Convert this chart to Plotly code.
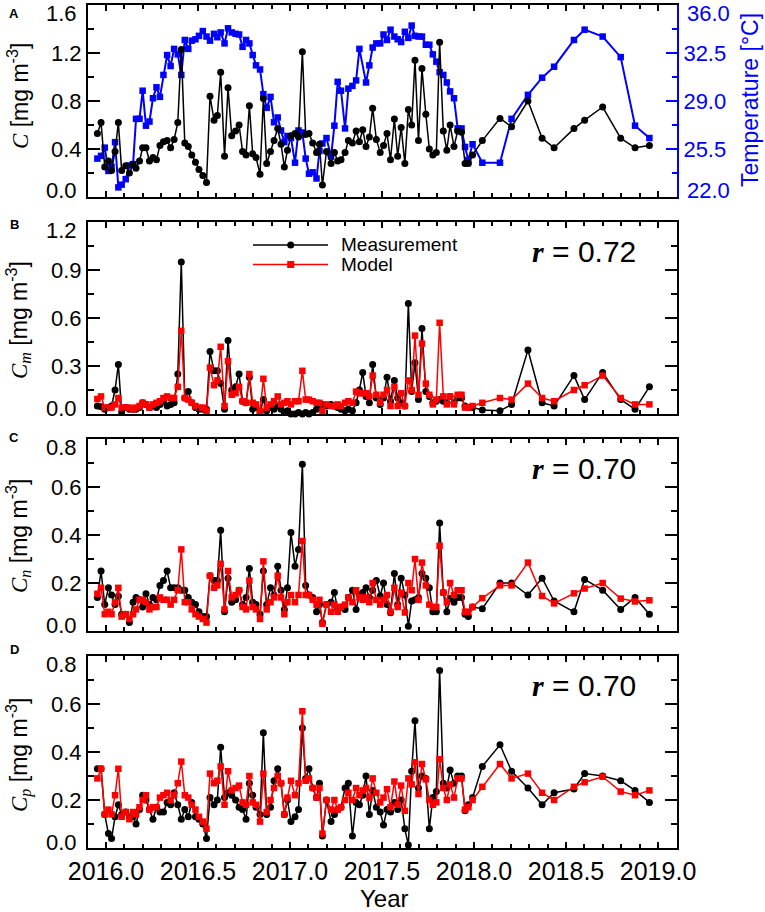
import plotly.graph_objects as go

# sampling dates, decimal year
year = [
    2015.953, 2015.973, 2015.993, 2016.013, 2016.030, 2016.049, 2016.067, 2016.085, 2016.107, 2016.127,
    2016.147, 2016.163, 2016.182, 2016.199, 2016.217, 2016.236, 2016.255, 2016.274, 2016.293, 2016.312,
    2016.332, 2016.351, 2016.370, 2016.390, 2016.409, 2016.428, 2016.447, 2016.466, 2016.486, 2016.505,
    2016.526, 2016.546, 2016.565, 2016.587, 2016.605, 2016.623, 2016.644, 2016.663, 2016.683, 2016.704,
    2016.723, 2016.742, 2016.761, 2016.779, 2016.797, 2016.815, 2016.837, 2016.855, 2016.873, 2016.894,
    2016.913, 2016.933, 2016.951, 2016.969, 2016.986, 2017.005, 2017.027, 2017.046, 2017.067, 2017.085,
    2017.103, 2017.123, 2017.144, 2017.160, 2017.176, 2017.198, 2017.223, 2017.241, 2017.259, 2017.277,
    2017.299, 2017.317, 2017.339, 2017.359, 2017.377, 2017.395, 2017.413, 2017.431, 2017.449, 2017.469,
    2017.490, 2017.508, 2017.527, 2017.546, 2017.567, 2017.585, 2017.604, 2017.624, 2017.643, 2017.661,
    2017.679, 2017.698, 2017.717, 2017.738, 2017.757, 2017.776, 2017.795, 2017.813, 2017.833, 2017.852,
    2017.870, 2017.891, 2017.911, 2017.932, 2017.951, 2017.969, 2017.992, 2018.045, 2018.141, 2018.204,
    2018.293, 2018.370, 2018.435, 2018.543, 2018.601, 2018.699, 2018.797, 2018.875, 2018.953,
]

# panel A: total concentration (mg m-3) and temperature (deg C)
conc_total = [
    0.53, 0.62, 0.25, 0.30, 0.22, 0.38, 0.62, 0.22, 0.26, 0.20,
    0.27, 0.24, 0.30, 0.41, 0.41, 0.30, 0.33, 0.31, 0.43, 0.46,
    0.47, 0.41, 0.48, 0.62, 1.23, 0.45, 0.42, 0.35, 0.29, 0.23,
    0.18, 0.12, 0.84, 0.64, 0.68, 1.04, 0.34, 0.91, 0.51, 0.55,
    0.60, 0.38, 0.35, 0.76, 0.36, 0.33, 0.19, 0.82, 0.28, 0.38,
    0.47, 0.57, 0.44, 0.25, 0.39, 0.51, 0.53, 0.50, 1.21, 0.52,
    0.53, 0.45, 0.37, 0.44, 0.10, 0.38, 0.28, 0.37, 0.30, 0.31,
    0.37, 0.47, 0.45, 0.55, 0.46, 0.56, 0.42, 0.50, 0.74, 0.48,
    0.37, 0.43, 0.53, 0.31, 0.65, 0.34, 0.58, 0.28, 0.73, 0.60,
    1.14, 0.47, 1.07, 0.69, 0.40, 0.35, 0.37, 1.29, 0.55, 0.39,
    0.60, 0.42, 0.55, 0.54, 0.28, 0.28, 0.35, 0.47, 0.655, 0.585,
    0.80, 0.49, 0.41, 0.57, 0.64, 0.75, 0.49, 0.41, 0.43,
]
temperature = [
    24.8, 25.0, 25.6, 23.9, 24.2, 26.0, 22.7, 22.9, 23.3, 24.3,
    24.4, 27.7, 27.7, 29.75, 27.2, 27.5, 29.2, 30.0, 29.3, 30.9,
    32.35, 31.55, 32.8, 32.4, 30.9, 33.45, 32.8, 33.4, 33.5, 33.75,
    34.1, 33.7, 33.4, 33.9, 33.65, 34.0, 33.2, 34.3, 34.0, 33.9,
    33.85, 32.95, 33.45, 33.2, 32.35, 31.6, 31.3, 29.5, 28.5, 29.3,
    27.45, 27.8, 26.85, 26.0, 26.45, 26.3, 24.5, 26.85, 26.7, 24.8,
    23.7, 23.8, 23.35, 25.35, 25.9, 26.3, 24.95, 27.2, 30.4, 29.75,
    27.0, 29.9, 30.1, 30.5, 32.8, None, 30.35, 31.6, 32.9, 33.2,
    33.2, 33.85, 33.45, 34.2, 33.7, 33.5, 33.3, 34.05, 33.6, 34.5,
    33.75, 33.7, 33.7, 33.1, 33.1, 32.4, 31.87, 31.1, 30.9, 30.35,
    29.7, 29.2, 27.0, 27.0, 25.65, 24.7, 25.85, 24.5, 24.5, 27.7,
    29.45, 30.7, 31.5, 33.45, 34.2, 33.7, 32.2, 27.2, 26.3,
]

# panel B: Cm
cm_meas = [
    0.05, 0.045, 0.03, 0.04, 0.05, 0.15, 0.31, 0.01, 0.04, 0.03,
    0.03, 0.03, 0.04, 0.07, 0.06, 0.04, 0.05, 0.04, 0.06, 0.08,
    0.05, 0.06, 0.07, 0.25, 0.95, 0.10, 0.14, 0.07, 0.04, 0.03,
    0.03, 0.03, 0.39, 0.27, 0.27, 0.19, 0.03, 0.46, 0.15, 0.17,
    0.25, 0.08, 0.07, 0.23, 0.03, 0.04, 0.01, 0.09, 0.02, 0.04,
    0.03, 0.05, 0.03, 0.01, 0.02, 0.00, 0.00, 0.01, 0.00, 0.01,
    0.00, 0.01, 0.03, 0.04, 0.06, 0.05, 0.06, 0.05, 0.04, 0.03,
    0.02, 0.03, 0.02, 0.07, 0.15, 0.26, 0.11, 0.07, 0.31, 0.10,
    0.06, 0.10, 0.23, 0.08, 0.21, 0.10, 0.07, 0.05, 0.69, 0.14,
    0.32, 0.09, 0.535, 0.14, 0.11, 0.07, 0.08, 0.09, 0.08, 0.07,
    0.11, 0.07, 0.10, 0.10, 0.05, 0.04, 0.04, 0.025, 0.02, 0.06,
    0.40, 0.07, 0.05, 0.24, 0.09, 0.26, 0.09, 0.03, 0.17,
]
cm_model = [
    0.094, 0.11, 0.04, 0.04, 0.04, 0.06, 0.10, 0.04, 0.04, 0.04,
    0.03, 0.04, 0.05, 0.07, 0.06, 0.04, 0.06, 0.07, 0.08, 0.10,
    0.11, 0.10, 0.10, 0.17, 0.52, 0.10, 0.09, 0.07, 0.05, 0.04,
    0.04, 0.02, 0.29, 0.18, 0.21, 0.42, 0.05, 0.33, 0.12, 0.13,
    0.17, 0.08, 0.07, 0.25, 0.07, 0.06, 0.02, 0.22, 0.04, 0.06,
    0.08, 0.11, 0.06, 0.07, 0.08, 0.06, 0.08, 0.08, 0.27, 0.09,
    0.09, 0.08, 0.07, 0.07, 0.02, 0.06, 0.05, 0.05, 0.06, 0.05,
    0.07, 0.08, 0.07, 0.14, 0.13, 0.13, 0.13, 0.11, 0.24, 0.12,
    0.07, 0.12, 0.15, 0.05, 0.17, 0.05, 0.13, 0.05, 0.21, 0.15,
    0.49, 0.12, 0.44, 0.19, 0.12, 0.06, 0.09, 0.57, 0.11, 0.06,
    0.11, 0.06, 0.12, 0.12, 0.04, 0.04, 0.05, 0.07, 0.10, 0.09,
    0.19, 0.10, 0.08, 0.15, 0.18, 0.24, 0.10, 0.06, 0.06,
]

# panel C: Cn
cn_meas = [
    0.14, 0.25, 0.11, 0.18, 0.15, 0.11, 0.145, 0.07, 0.07, 0.035,
    0.12, 0.14, 0.13, 0.10, 0.155, 0.11, 0.14, 0.13, 0.19, 0.21,
    0.25, 0.18, 0.18, 0.18, 0.17, 0.17, 0.14, 0.12, 0.11, 0.08,
    0.06, 0.06, 0.23, 0.21, 0.21, 0.42, 0.08, 0.22, 0.12, 0.13,
    0.17, 0.11, 0.14, 0.26, 0.12, 0.11, 0.07, 0.25, 0.11, 0.18,
    0.15, 0.27, 0.17, 0.09, 0.18, 0.41, 0.27, 0.34, 0.695, 0.19,
    0.15, 0.14, 0.08, 0.11, 0.035, 0.11, 0.12, 0.16, 0.09, 0.10,
    0.09, 0.14, 0.17, 0.09, 0.15, 0.16, 0.18, 0.14, 0.17, 0.21,
    0.146, 0.20, 0.11, 0.076, 0.24, 0.11, 0.22, 0.15, 0.02, 0.125,
    0.13, 0.14, 0.24, 0.22, 0.18, 0.08, 0.08, 0.45, 0.16, 0.08,
    0.135, 0.12, 0.14, 0.14, 0.07, 0.06, 0.10, 0.093, 0.20, 0.20,
    0.15, 0.22, 0.125, 0.08, 0.215, 0.17, 0.09, 0.14, 0.07,
]
cn_model = [
    0.155, 0.18, 0.07, 0.08, 0.07, 0.12, 0.18, 0.06, 0.07, 0.05,
    0.07, 0.09, 0.13, 0.13, 0.12, 0.09, 0.10, 0.10, 0.14, 0.13,
    0.13, 0.11, 0.13, 0.17, 0.34, 0.12, 0.12, 0.09, 0.07, 0.06,
    0.05, 0.035, 0.23, 0.18, 0.19, 0.28, 0.09, 0.25, 0.14, 0.15,
    0.17, 0.10, 0.09, 0.21, 0.10, 0.09, 0.05, 0.29, 0.09, 0.12,
    0.14, 0.23, 0.14, 0.07, 0.12, 0.15, 0.12, 0.15, 0.375, 0.15,
    0.15, 0.13, 0.11, 0.13, 0.03, 0.11, 0.08, 0.11, 0.08, 0.10,
    0.11, 0.14, 0.12, 0.17, 0.14, 0.13, 0.14, 0.12, 0.20, 0.13,
    0.11, 0.13, 0.15, 0.08, 0.18, 0.10, 0.16, 0.077, 0.20, 0.17,
    0.30, 0.13, 0.285, 0.19, 0.11, 0.10, 0.10, 0.355, 0.16, 0.12,
    0.20, 0.15, 0.17, 0.17, 0.08, 0.08, 0.10, 0.137, 0.19, 0.19,
    0.285, 0.146, 0.115, 0.157, 0.177, 0.20, 0.135, 0.123, 0.128,
]

# panel D: Cp
cp_meas = [
    0.33, 0.33, 0.14, 0.06, 0.04, 0.13, 0.18, 0.14, 0.15, 0.13,
    0.13, 0.10, 0.16, 0.22, 0.20, 0.16, 0.12, 0.17, 0.15, 0.15,
    0.19, 0.18, 0.23, 0.18, 0.12, 0.16, 0.13, 0.19, 0.13, 0.12,
    0.10, 0.04, 0.21, 0.18, 0.20, 0.42, 0.21, 0.23, 0.22, 0.20,
    0.17, 0.16, 0.12, 0.27, 0.22, 0.17, 0.14, 0.48, 0.14, 0.17,
    0.28, 0.33, 0.27, 0.14, 0.20, 0.11, 0.13, 0.16, 0.50, 0.29,
    0.33, 0.25, 0.21, 0.27, 0.05, 0.20, 0.11, 0.14, 0.16, 0.17,
    0.25, 0.27, 0.05, 0.19, 0.18, 0.22, 0.30, 0.14, 0.24, 0.17,
    0.15, 0.096, 0.16, 0.15, 0.19, 0.16, 0.20, 0.08, 0.012, 0.32,
    0.53, 0.25, 0.30, 0.29, 0.08, 0.21, 0.235, 0.74, 0.27, 0.25,
    0.325, 0.27, 0.30, 0.30, 0.155, 0.18, 0.21, 0.34, 0.43, 0.32,
    0.25, 0.18, 0.23, 0.246, 0.31, 0.30, 0.28, 0.24, 0.19,
]
cp_model = [
    0.29, 0.33, 0.14, 0.16, 0.14, 0.22, 0.33, 0.13, 0.15, 0.12,
    0.15, 0.14, 0.17, 0.20, 0.22, 0.16, 0.17, 0.17, 0.21, 0.22,
    0.23, 0.20, 0.22, 0.27, 0.36, 0.22, 0.21, 0.18, 0.16, 0.13,
    0.11, 0.08, 0.31, 0.27, 0.28, 0.34, 0.18, 0.32, 0.24, 0.25,
    0.26, 0.19, 0.18, 0.30, 0.19, 0.18, 0.11, 0.31, 0.15, 0.20,
    0.25, 0.30, 0.27, 0.14, 0.21, 0.28, 0.22, 0.27, 0.57, 0.28,
    0.29, 0.25, 0.21, 0.25, 0.06, 0.20, 0.16, 0.20, 0.16, 0.17,
    0.20, 0.23, 0.20, 0.25, 0.22, 0.24, 0.25, 0.21, 0.29, 0.23,
    0.19, 0.21, 0.245, 0.17, 0.277, 0.18, 0.26, 0.155, 0.29, 0.265,
    0.357, 0.225, 0.35, 0.286, 0.20, 0.18, 0.19, 0.37, 0.25, 0.20,
    0.265, 0.21, 0.29, 0.29, 0.16, 0.17, 0.20, 0.255, 0.35, 0.29,
    0.31, 0.23, 0.20, 0.255, 0.274, 0.297, 0.235, 0.22, 0.24,
]

r_values = ["0.72", "0.70", "0.70"]
panel_letters = ["A", "B", "C", "D"]
# y tick values per panel (left axes) and for the temperature axis
yticks_left = [
    [0.0, 0.4, 0.8, 1.2, 1.6],
    [0.0, 0.3, 0.6, 0.9, 1.2],
    [0.0, 0.2, 0.4, 0.6, 0.8],
    [0.0, 0.2, 0.4, 0.6, 0.8],
]
yticks_temp = [22.0, 25.5, 29.0, 32.5, 36.0]

W, H = 765, 912
ML, MR, MT, MB = 88, 88, 5, 64
PW, PH = W - ML - MR, H - MT - MB


def px2x(px):
    return (px - ML) / PW


def px2y(py):
    return (H - MB - py) / PH


# panel pixel extents (top, bottom)
panels = [(5, 197), (222, 414), (439, 631), (656, 848)]
domains = [[px2y(b), px2y(t)] for t, b in panels]

SANS = "Liberation Sans"
SERIF = "Liberation Serif"
BLUE = "#0000ff"
RED = "#ff0000"

fig = go.Figure()

# panel A: temperature on base axis (right), concentration overlaid (left) so black draws on top
fig.add_trace(go.Scatter(x=year, y=temperature, xaxis="x", yaxis="y", mode="lines+markers",
                         connectgaps=True, cliponaxis=False,
                         line=dict(color=BLUE, width=2),
                         marker=dict(symbol="square", size=6.5, color=BLUE), showlegend=False))
fig.add_trace(go.Scatter(x=year, y=conc_total, xaxis="x", yaxis="y5", mode="lines+markers",
                         cliponaxis=False, line=dict(color="black", width=1.5),
                         marker=dict(symbol="circle", size=7, color="black"), showlegend=False))

for i, (meas, model) in enumerate([(cm_meas, cm_model), (cn_meas, cn_model), (cp_meas, cp_model)], start=2):
    fig.add_trace(go.Scatter(x=year, y=meas, xaxis=f"x{i}", yaxis=f"y{i}", mode="lines+markers",
                             cliponaxis=False, line=dict(color="black", width=1.5),
                             marker=dict(symbol="circle", size=7, color="black"), showlegend=False))
    fig.add_trace(go.Scatter(x=year, y=model, xaxis=f"x{i}", yaxis=f"y{i}", mode="lines+markers",
                             cliponaxis=False, line=dict(color=RED, width=1.5),
                             marker=dict(symbol="square", size=6.5, color=RED), showlegend=False))

xcommon = dict(range=[2015.902, 2019.103], tick0=2016.0, dtick=0.5, tickformat=".1f",
               ticks="inside", ticklen=6, tickwidth=1.5, tickcolor="black",
               minor=dict(dtick=0.1, ticks="inside", ticklen=4, tickwidth=1.5, tickcolor="black"),
               showline=True, linewidth=2, linecolor="black", mirror="ticks",
               showgrid=False, zeroline=False, automargin=False,
               tickfont=dict(family=SANS, size=25, color="black"))


def yaxis_ticks(vals, color, majorlen, minorlen):
    # end labels are left blank on the axis and drawn as annotations nudged inward
    text = [""] + [f"{v:.1f}" for v in vals[1:-1]] + [""]
    mids = [(a + b) / 2 for a, b in zip(vals[:-1], vals[1:])]
    return dict(tickmode="array", tickvals=vals, ticktext=text,
                ticks="inside", ticklen=majorlen, tickwidth=1.5, tickcolor=color,
                minor=dict(tickmode="array", tickvals=mids, ticks="inside", ticklen=minorlen,
                           tickwidth=1.5, tickcolor=color),
                range=[vals[0], vals[-1]], showline=True, linewidth=2, linecolor=color,
                showgrid=False, zeroline=False, automargin=False,
                tickfont=dict(family=SANS, size=22, color=color))


layout = dict(width=W, height=H, margin=dict(l=ML, r=MR, t=MT, b=MB),
              plot_bgcolor="white", paper_bgcolor="white", showlegend=False)

for i in range(1, 5):
    key = "xaxis" if i == 1 else f"xaxis{i}"
    layout[key] = dict(xcommon, anchor="y" if i == 1 else f"y{i}",
                       showticklabels=(i == 4),
                       matches=None if i == 1 else "x")

# panel A axes
layout["yaxis"] = dict(yaxis_ticks(yticks_temp, BLUE, 11, 5), domain=domains[0], side="right")
layout["yaxis5"] = dict(yaxis_ticks(yticks_left[0], "black", 12, 6),
                        overlaying="y", side="left", anchor="x", mirror=False)
for i in range(2, 5):
    layout[f"yaxis{i}"] = dict(yaxis_ticks(yticks_left[i - 1], "black", 12, 6),
                               domain=domains[i - 1], anchor=f"x{i}", mirror="ticks")

fig.update_layout(**layout)

ann = []
# end tick labels, shifted inside the panel as in the original figure
for k, (t, b) in enumerate(panels):
    vals = yticks_left[k]
    for v, py in [(vals[0], b - 6), (vals[-1], t + 8.5)]:
        ann.append(dict(x=px2x(79), y=px2y(py), xref="paper", yref="paper", text=f"{v:.1f}",
                        showarrow=False, xanchor="right", yanchor="middle",
                        font=dict(family=SANS, size=22, color="black")))
t0, b0 = panels[0]
for v, py in [(yticks_temp[0], b0 - 6.5), (yticks_temp[-1], t0 + 9)]:
    ann.append(dict(x=px2x(685), y=px2y(py), xref="paper", yref="paper", text=f"{v:.1f}",
                    showarrow=False, xanchor="left", yanchor="middle",
                    font=dict(family=SANS, size=22, color=BLUE)))

ytitles = [
    f"<span style='font-family:{SERIF}'><i>C</i></span> [mg m<sup>-3</sup>]",
    f"<span style='font-family:{SERIF}'><i>C<sub>m</sub></i></span> [mg m<sup>-3</sup>]",
    f"<span style='font-family:{SERIF}'><i>C<sub>n</sub></i></span> [mg m<sup>-3</sup>]",
    f"<span style='font-family:{SERIF}'><i>C<sub>p</sub></i></span> [mg m<sup>-3</sup>]",
]
title_y = [96, 320, 536, 755]
letter_y = [14, 224, 437, 649]
for k in range(4):
    ann.append(dict(x=px2x(18), y=px2y(title_y[k]), xref="paper", yref="paper",
                    text=ytitles[k], textangle=-90, showarrow=False,
                    xanchor="center", yanchor="middle",
                    font=dict(family=SANS, size=23, color="black")))
    ann.append(dict(x=px2x(14), y=px2y(letter_y[k]), xref="paper", yref="paper",
                    text=f"<b>{panel_letters[k]}</b>", showarrow=False,
                    xanchor="center", yanchor="middle",
                    font=dict(family=SANS, size=13, color="black")))

ann.append(dict(x=px2x(750), y=px2y(100), xref="paper", yref="paper",
                text="Temperature [°C]", textangle=-90, showarrow=False,
                xanchor="center", yanchor="middle",
                font=dict(family=SANS, size=23, color=BLUE)))

r_y = [252, 468, 685]
for k, rv in enumerate(r_values):
    ann.append(dict(x=px2x(638), y=px2y(r_y[k]), xref="paper", yref="paper",
                    text=f"<span style='font-family:{SERIF}'><b><i>r</i></b></span> = {rv}",
                    showarrow=False, xanchor="right", yanchor="middle",
                    font=dict(family=SANS, size=30, color="black")))

ann.append(dict(x=px2x(384), y=px2y(899), xref="paper", yref="paper", text="Year",
                showarrow=False, xanchor="center", yanchor="middle",
                font=dict(family=SANS, size=24, color="black")))

# legend drawn by hand in panel B
shapes = []
for ly, col, sym, label in [(245, "black", "circle", "Measurement"), (264.5, RED, "rect", "Model")]:
    shapes.append(dict(type="line", xref="paper", yref="paper",
                       x0=px2x(253), x1=px2x(328), y0=px2y(ly), y1=px2y(ly),
                       line=dict(color=col, width=1.5)))
    shapes.append(dict(type=sym, xref="paper", yref="paper", xsizemode="pixel", ysizemode="pixel",
                       xanchor=px2x(290.7), yanchor=px2y(ly), x0=-3.5, x1=3.5, y0=-3.5, y1=3.5,
                       fillcolor=col, line=dict(width=0)))
    ann.append(dict(x=px2x(339), y=px2y(ly), xref="paper", yref="paper", text=label,
                    showarrow=False, xanchor="left", yanchor="middle",
                    font=dict(family=SANS, size=19, color="black")))

fig.update_layout(annotations=ann, shapes=shapes)

# the page body has a default 8px margin; drop it so the figure sits at the window corner
fig.write_html("out.html", config={"displayModeBar": False},
               post_script="document.body.style.margin='0';")
